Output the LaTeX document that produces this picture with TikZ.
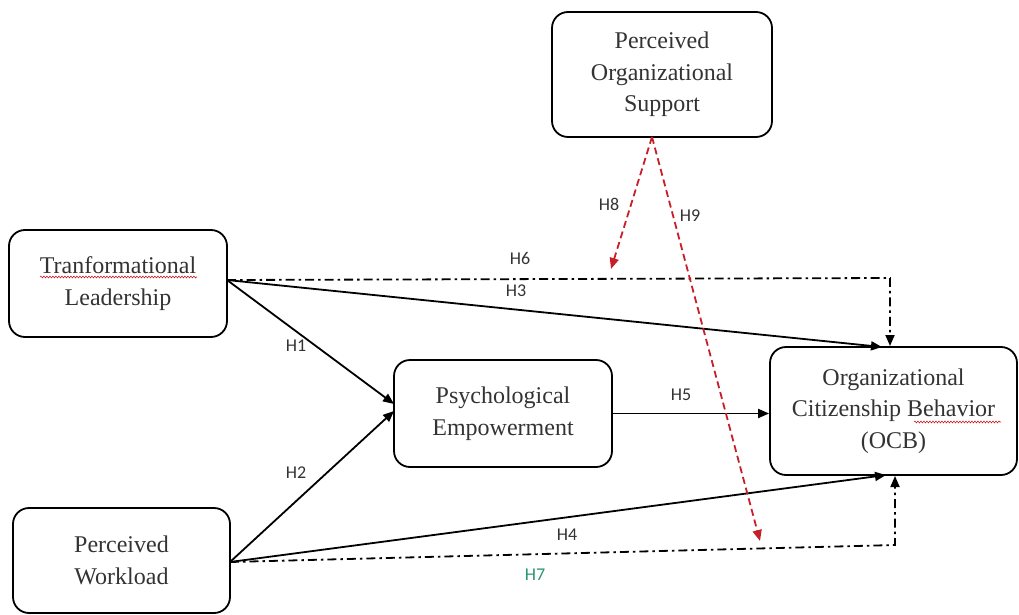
\documentclass[tikz,border=0pt]{standalone}
\usepackage{fontspec}
\setmainfont{Liberation Serif}
\newfontfamily\labelfont{Carlito}
\usetikzlibrary{arrows.meta,decorations.pathmorphing}
\definecolor{hgreen}{RGB}{40,150,110}
\definecolor{hred}{RGB}{200,30,40}
\begin{document}
\begin{tikzpicture}[x=1pt,y=-1pt,
 box/.style={draw,line width=1.8pt,rounded corners=16pt,align=center,font=\fontsize{24}{31.5}\selectfont,inner sep=0pt,text=black!80},
 link/.style={line width=1.8pt,-{Triangle[length=11pt,width=9pt]}},
 dashdot/.style={link,dash pattern=on 9pt off 4pt on 2.5pt off 4pt},
 moder/.style={hred,line width=1.8pt,dash pattern=on 7pt off 4pt,-{Triangle[length=11pt,width=9pt]}},
 hlab/.style={font=\labelfont\fontsize{18}{20}\selectfont,text=black!80,inner sep=0pt},
 squig/.style={hred,line width=0.6pt,decorate,decoration={snake,amplitude=0.9pt,segment length=3pt}}]

\useasboundingbox (0,0) rectangle (1019,615);

% boxes
\node[box,minimum width=218pt,minimum height=107pt] (tl) at (118,283.5) {Tranformational\\Leadership};
\node[box,minimum width=220pt,minimum height=125pt] (pos) at (662,74.5) {Perceived\\Organizational\\Support};
\node[box,minimum width=218pt,minimum height=107pt] (pe) at (503,413.5) {Psychological\\Empowerment};
\node[box,minimum width=247pt,minimum height=128pt] (ocb) at (893.5,411) {Organizational\\Citizenship Behavior\\(OCB)};
\node[box,minimum width=217pt,minimum height=105pt] (pw) at (121.5,560.5) {Perceived\\Workload};

% spell-check marks
\draw[squig] (40,277) -- (197,277);
\draw[squig] (914,422) -- (1001,422);

% connection points
\coordinate (tlout) at (227,280);
\coordinate (pwout) at (230,562);
\coordinate (pein1) at (394,404);
\coordinate (pein2) at (394,411);
\coordinate (ocbtop1) at (882,347);
\coordinate (c6) at (890,278);
\coordinate (ocbtop2) at (890,346);
\coordinate (ocbbot1) at (886,475);
\coordinate (c7) at (895,545);
\coordinate (ocbbot2) at (895,476);
\coordinate (posout) at (652,137);
\coordinate (h8tip) at (611,269);
\coordinate (h9tip) at (760,541);

% paths
\draw[link] (tlout) -- (pein1);
\draw[link] (pwout) -- (pein2);
\draw[link] (pe.east) -- (pe.east -| ocb.west);
\draw[link] (tlout) -- (ocbtop1);
\draw[dashdot] (tlout) -- (c6) -- (ocbtop2);
\draw[link] (pwout) -- (ocbbot1);
\draw[dashdot] (pwout) -- (c7) -- (ocbbot2);
\draw[moder] (posout) -- (h8tip);
\draw[moder] (posout) -- (h9tip);

% labels
\node[hlab] (l6) at (520,258) {H6};
\node[hlab] (l3) at (516,291) {H3};
\node[hlab] (l1) at (296,346) {H1};
\node[hlab] (l2) at (296,473) {H2};
\node[hlab] (l5) at (681,395) {H5};
\node[hlab] (l4) at (567,535) {H4};
\node[hlab,text=hgreen] (l7) at (535,575) {H7};
\node[hlab] (l8) at (609,204) {H8};
\node[hlab] (l9) at (690,216) {H9};
\end{tikzpicture}
\end{document}
